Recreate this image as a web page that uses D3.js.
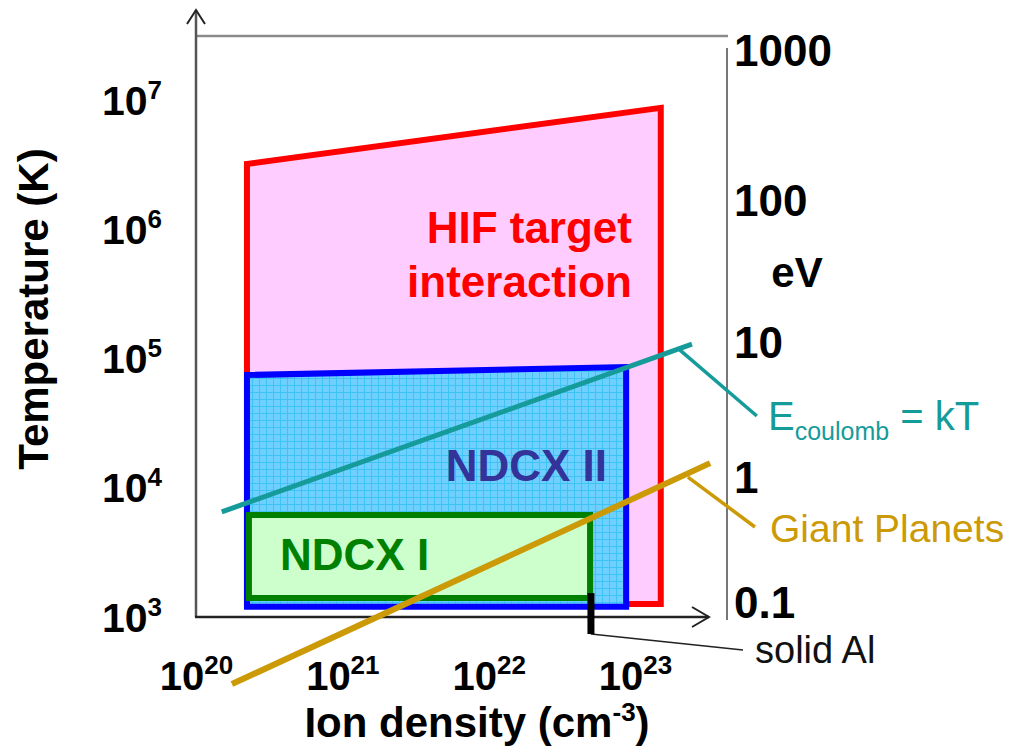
<!DOCTYPE html>
<html><head><meta charset="utf-8">
<script src="https://cdn.jsdelivr.net/npm/d3@7"></script>
<style>body{margin:0;background:#fff} svg{display:block} text{font-family:"Liberation Sans",Arial,Helvetica,sans-serif}</style>
</head><body><svg id="c" width="1012" height="750"></svg>
<script>
// ---- data ----
const xTicks=[1e20,1e21,1e22,1e23];
const xTickExp=["20","21","22","23"];
const yTicks=[1e3,1e4,1e5,1e6,1e7];
const yTickExp=["3","4","5","6","7"];
const eVTicks=[0.1,1,10,100,1000];
const eVTickLabels=["0.1","1","10","100","1000"];

const hifDensity=[2.23e20,1.5e23,1.5e23,2.23e20];
const hifTemp=[3.2e6,8.7e6,1.26e3,1.26e3];
const ndcx2Density=[2.23e20,8.7e22,8.7e22,2.23e20];
const ndcx2Temp=[7.45e4,8.6e4,1.2e3,1.2e3];
const ndcx1Density=[2.3e20,4.93e22,4.93e22,2.3e20];
const ndcx1Temp=[6.15e3,6.15e3,1.4e3,1.4e3];
const coulombDensity=[1.5e20,2.45e23];
const coulombTemp=[6.5e3,1.29e5];
const planetsDensity=[1.76e20,3.26e23];
const planetsTemp=[303,1.55e4];
const solidAlDensity=[5.0e22,5.0e22];
const solidAlTemp=[1.53e3,738];
const coulombLeaderDensity=[2.03e23,6.8e23];
const coulombLeaderTemp=[1.16e5,3.59e4];
const planetsLeaderDensity=[2.3e23,6.6e23];
const planetsLeaderTemp=[1.21e4,4.97e3];
const solidAlLeaderDensity=[5.0e22,5.47e23];
const solidAlLeaderTemp=[738,556];

// ---- scales ----
const x=d3.scaleLog().domain([1e20,1e23]).range([196,635]);
const y=d3.scaleLog().domain([1e3,1e7]).range([617,100]);
const ev=d3.scaleLog().domain([0.1,1,10,100,1000]).range([602,477,342,200,50]);

const svg=d3.select("#c");
const defs=svg.append("defs");
const pat=defs.append("pattern").attr("id","grid").attr("width",7).attr("height",7).attr("patternUnits","userSpaceOnUse");
pat.append("rect").attr("width",7).attr("height",7).attr("fill","#6fd0ff");
pat.append("path").attr("d","M0 0.5H7M0.5 0V7").attr("stroke","#3ec3f5").attr("stroke-width",1);

// frame
svg.append("line").attr("x1",196).attr("x2",728).attr("y1",36).attr("y2",36).attr("stroke","#8a8a8a").attr("stroke-width",2.5);
svg.append("line").attr("x1",727).attr("x2",727).attr("y1",48).attr("y2",620).attr("stroke","#777").attr("stroke-width",2);
svg.append("line").attr("x1",196).attr("x2",196).attr("y1",617).attr("y2",10).attr("stroke","#555").attr("stroke-width",2.5);
svg.append("path").attr("d","M187,24L196,10L205,24").attr("fill","none").attr("stroke","#222").attr("stroke-width",2);
svg.append("line").attr("x1",195).attr("x2",709).attr("y1",617).attr("y2",617).attr("stroke","#222").attr("stroke-width",2.5);
svg.append("path").attr("d","M692,607L709,617L692,627").attr("fill","none").attr("stroke","#222").attr("stroke-width",2);

// axes
const supLabel=(sel,exps)=>{
  sel.each(function(d,i){
    const t=d3.select(this); t.text(null);
    t.append("tspan").text("10");
    t.append("tspan").attr("font-size",26).attr("dy",-16).text(exps[i]);
  });
};
const gx=svg.append("g").attr("transform","translate(0,617)").call(d3.axisBottom(x).tickValues(xTicks).tickSize(0));
gx.select(".domain").remove();
gx.selectAll("text").attr("y",73).attr("dy",0).attr("font-size",40).attr("font-weight","bold").attr("fill","#000").attr("font-family",null).call(supLabel,xTickExp);

const gy=svg.append("g").attr("transform","translate(196,0)").call(d3.axisLeft(y).tickValues(yTicks).tickSize(0));
gy.select(".domain").remove();
gy.selectAll("text").attr("x",-34).attr("dy",14).attr("font-size",41).attr("font-weight","bold").attr("fill","#000").attr("font-family",null).attr("text-anchor","end").call(supLabel,yTickExp);

const gr=svg.append("g").attr("transform","translate(727,0)").call(d3.axisRight(ev).tickValues(eVTicks).tickSize(0).tickFormat((d,i)=>eVTickLabels[i]));
gr.select(".domain").remove();
gr.selectAll("text").attr("x",7).attr("dy",15).attr("font-size",44).attr("font-weight","bold").attr("fill","#000").attr("font-family",null);

// regions
const poly=(xs,ys)=>d3.line().x((d,i)=>x(xs[i])).y((d,i)=>y(ys[i]))(xs)+"Z";
const seg=(xs,ys)=>d3.line().x((d,i)=>x(xs[i])).y((d,i)=>y(ys[i]))(xs);
svg.append("path").attr("d",poly(hifDensity,hifTemp)).attr("fill","#ffccff").attr("stroke","#ff0000").attr("stroke-width",6).attr("stroke-linejoin","miter");
svg.append("path").attr("d",poly(ndcx2Density,ndcx2Temp)).attr("fill","url(#grid)").attr("stroke","#0000ff").attr("stroke-width",6);
svg.append("path").attr("d",poly(ndcx1Density,ndcx1Temp)).attr("fill","#ccffcc").attr("stroke","#008000").attr("stroke-width",6);

// lines
svg.append("path").attr("d",seg(coulombDensity,coulombTemp)).attr("stroke","#169b9b").attr("stroke-width",5).attr("fill","none");
svg.append("path").attr("d",seg(planetsDensity,planetsTemp)).attr("stroke","#cc9a06").attr("stroke-width",6).attr("fill","none");
svg.append("path").attr("d",seg(coulombLeaderDensity,coulombLeaderTemp)).attr("stroke","#169b9b").attr("stroke-width",3.5).attr("fill","none");
svg.append("path").attr("d",seg(planetsLeaderDensity,planetsLeaderTemp)).attr("stroke","#cc9a06").attr("stroke-width",3.5).attr("fill","none");
svg.append("path").attr("d",seg(solidAlLeaderDensity,solidAlLeaderTemp)).attr("stroke","#222").attr("stroke-width",1.5).attr("fill","none");
svg.append("path").attr("d",seg(solidAlDensity,solidAlTemp)).attr("stroke","#000").attr("stroke-width",7).attr("fill","none");

// region labels
const lab=(t,xx,yy,size,col,w,anchor)=>svg.append("text").attr("x",xx).attr("y",yy).attr("font-size",size).attr("fill",col).attr("font-weight",w).attr("text-anchor",anchor||"start").text(t);
lab("HIF target",632,243,44,"#ff0000","bold","end");
lab("interaction",632,297,44,"#ff0000","bold","end");
lab("NDCX II",607,481,44,"#333399","bold","end");
lab("NDCX I",280,570,44,"#008000","bold","start");

// annotations
const ec=svg.append("text").attr("x",768).attr("y",430).attr("font-size",40).attr("fill","#169b9b");
ec.append("tspan").text("E");
ec.append("tspan").attr("font-size",25).attr("dy",10).text("coulomb");
ec.append("tspan").attr("dy",-10).text(" = kT");
lab("Giant Planets",770,542,39,"#cc9a06","normal");
lab("solid Al",755,663,38,"#111","normal");
lab("eV",797,287,42,"#000","bold","middle");

// axis titles
svg.append("text").attr("transform","translate(48,309) rotate(-90)").attr("text-anchor","middle").attr("font-size",42).attr("font-weight","bold").text("Temperature (K)");
const xt=svg.append("text").attr("x",477).attr("y",737).attr("text-anchor","middle").attr("font-size",42).attr("font-weight","bold");
xt.append("tspan").text("Ion density (cm");
xt.append("tspan").attr("font-size",26).attr("dy",-16).text("-3");
xt.append("tspan").attr("dy",16).text(")");
</script></body></html>
